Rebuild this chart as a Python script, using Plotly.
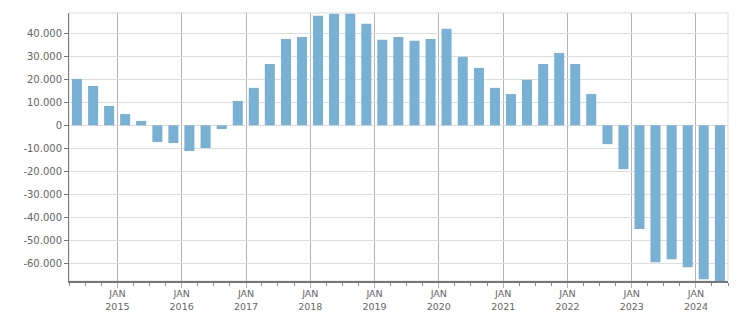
import plotly.graph_objects as go

quarters = [
    "2014-05-16", "2014-08-16", "2014-11-15",
    "2015-02-14", "2015-05-16", "2015-08-16", "2015-11-15",
    "2016-02-14", "2016-05-16", "2016-08-16", "2016-11-15",
    "2017-02-14", "2017-05-16", "2017-08-16", "2017-11-15",
    "2018-02-14", "2018-05-16", "2018-08-16", "2018-11-15",
    "2019-02-14", "2019-05-16", "2019-08-16", "2019-11-15",
    "2020-02-14", "2020-05-16", "2020-08-16", "2020-11-15",
    "2021-02-14", "2021-05-16", "2021-08-16", "2021-11-15",
    "2022-02-14", "2022-05-16", "2022-08-16", "2022-11-15",
    "2023-02-14", "2023-05-16", "2023-08-16", "2023-11-15",
    "2024-02-14", "2024-05-16",
]
values = [
    20200, 17100, 8400,
    4900, 1900, -7300, -7700,
    -11200, -9900, -1600, 10600,
    16300, 26700, 37600, 38500,
    47700, 48600, 48600, 44200,
    37200, 38500, 36800, 37600,
    42000, 29800, 25000, 16300,
    13600, 19800, 26700, 31500,
    26700, 13600, -8200, -19100,
    -45200, -59600, -58300, -61800,
    -67000, -67800,
]

year_ticks = [f"{y}-01-01" for y in range(2015, 2025)]
year_labels = [f"JAN<br>{y}" for y in range(2015, 2025)]
y_ticks = [-60000, -50000, -40000, -30000, -20000, -10000, 0, 10000, 20000, 30000, 40000]
y_labels = ["-60.000", "-50.000", "-40.000", "-30.000", "-20.000", "-10.000", "0",
            "10.000", "20.000", "30.000", "40.000"]

DAY_MS = 86400000

fig = go.Figure()
fig.add_trace(go.Bar(
    x=quarters, y=values,
    width=[57 * DAY_MS] * len(values),
    marker=dict(color="#78b1d3", line=dict(width=0)),
    hoverinfo="x+y",
))

font = dict(family="DejaVu Sans", size=10, color="#666666")
xfont = dict(family="DejaVu Sans", size=9.5, color="#666666")

fig.update_layout(
    width=751, height=313,
    margin=dict(l=69, r=23, t=13, b=32),
    paper_bgcolor="white", plot_bgcolor="white",
    showlegend=False,
    font=font,
    shapes=[dict(type="rect", xref="paper", yref="paper", x0=0, x1=1, y0=0, y1=1,
                 line=dict(color="#dddddd", width=1), layer="below")],
    xaxis=dict(
        type="date",
        range=["2014-04-01", "2024-07-01"],
        tickvals=year_ticks, ticktext=year_labels,
        showgrid=True, gridcolor="#b4b4b4", gridwidth=1,
        ticks="outside", ticklen=5, tickcolor="#b4b4b4", tickwidth=1,
        ticklabelstandoff=-2,
        showline=True, linecolor="#777777", linewidth=2,
        minor=dict(ticks="outside", ticklen=3, tickcolor="#888888",
                   dtick="M3", tick0="2014-01-01", showgrid=False),
        tickfont=xfont,
        automargin=False,
        fixedrange=True,
    ),
    yaxis=dict(
        range=[-67800, 48900],
        tickvals=y_ticks, ticktext=y_labels,
        showgrid=True, gridcolor="#dddddd", gridwidth=1,
        zeroline=False,
        ticks="outside", ticklen=4, tickcolor="#777777",
        showline=True, linecolor="#777777", linewidth=1,
        tickfont=font,
        automargin=False,
        fixedrange=True,
    ),
)

fig.write_html("out.html")
